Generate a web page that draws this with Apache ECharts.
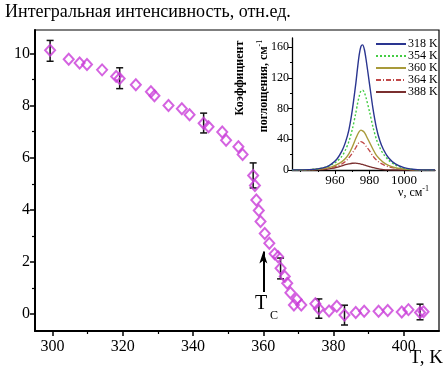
<!DOCTYPE html>
<html>
<head>
<meta charset="utf-8">
<script src="https://cdn.jsdelivr.net/npm/echarts@6/dist/echarts.min.js"></script>
<style>
  html, body { margin: 0; padding: 0; background: #fff; }
  #chart { width: 443px; height: 369px; }
</style>
</head>
<body>
<div id="chart"></div>
<script>
// Integrated intensity vs temperature (main plot)
const temperature = [299.3, 304.6, 307.7, 309.8, 314.1, 318.1, 319.1, 323.7, 328.0, 329.0,
  333.0, 336.8, 339.0, 343.0, 344.4, 348.3, 349.4, 352.9, 354.1, 357.1,
  357.6, 358.0, 358.7, 359.2, 360.4, 361.7, 363.2, 364.2, 364.9, 366.1,
  366.8, 367.7, 369.5, 368.7, 370.8, 374.8, 375.8, 378.7, 380.9, 383.1,
  386.3, 388.7, 392.8, 395.4, 399.4, 401.3, 404.6, 405.6];
const intensity = [10.12, 9.78, 9.63, 9.58, 9.37, 9.12, 9.04, 8.80, 8.53, 8.38,
  8.00, 7.88, 7.65, 7.32, 7.19, 6.99, 6.67, 6.42, 6.12, 5.32,
  4.93, 4.38, 3.97, 3.55, 3.09, 2.72, 2.31, 2.20, 1.76, 1.44,
  1.18, 0.82, 0.56, 0.35, 0.35, 0.40, 0.20, 0.12, 0.30, -0.04,
  0.06, 0.11, 0.11, 0.14, 0.08, 0.17, 0.06, 0.09];

// Error bars: temperature, central value, half-width
const errTemperature = [299.3, 319.1, 343.0, 357.1, 364.9, 375.8, 383.1, 404.6];
const errCenter = [10.10, 9.05, 7.33, 5.32, 1.75, 0.21, -0.04, 0.08];
const errHalf = [0.40, 0.40, 0.38, 0.48, 0.40, 0.37, 0.38, 0.30];

// Phase transition marker
const tcTemperature = 360;
const tcArrowFrom = 0.85;
const tcArrowTo = 2.4;

// Main axes ticks
const xMajorTicks = [300, 320, 340, 360, 380, 400];
const xMinorTicks = [310, 330, 350, 370, 390];
const yMajorTicks = [0, 2, 4, 6, 8, 10];
const yMinorTicks = [1, 3, 5, 7, 9];

// Absorption spectra (inset)
const wavenumber = [935, 945, 950, 955, 958, 961, 964, 966, 968, 970,
  972, 973, 974, 975, 976, 977, 978, 980, 982, 984,
  986, 988, 991, 995, 1000, 1005, 1010, 1018];
const abs318 = [0, 0.5, 1.5, 4, 8, 14, 25, 36, 52, 78,
  112, 132, 150, 161, 163, 157, 144, 112, 80, 55,
  38, 27, 16, 8, 3, 1, 0, 0];
const abs354 = [0, 0.5, 1.5, 4, 7, 11, 18, 26, 37, 53,
  74, 86, 96, 103, 104, 101, 94, 76, 56, 40,
  29, 21, 13, 6.5, 2.5, 0.8, 0, 0];
const abs360 = [0, 0.3, 1, 2.5, 4, 7, 11, 15, 21, 30,
  41, 46, 50, 52, 51, 49, 45, 36, 27, 19,
  14, 10, 6, 3, 1.2, 0.4, 0, 0];
const abs364 = [0, 0.3, 0.8, 2, 3, 5, 8, 11, 16, 22,
  29, 33, 36, 37, 36, 34, 31, 25, 18, 13,
  9.5, 7, 4.2, 2.2, 1, 0.3, 0, 0];
const abs388 = [0, 0, 0.3, 1, 2, 3.5, 5.5, 7, 8, 8.8,
  9, 8.5, 8.2, 7.8, 7.2, 6.5, 5.8, 4.5, 3.2, 2,
  1.2, 0.6, 0.2, 0, 0, 0, 0, 0];
const spectrumNames = ['318 K', '354 K', '360 K', '364 K', '388 K'];
const spectra = [abs318, abs354, abs360, abs364, abs388];

const insetXMajor = [960, 980, 1000];
const insetXMinor = [940, 950, 970, 990, 1010];
const insetYMajor = [0, 40, 80, 120, 160];
const insetYMinor = [20, 60, 100, 140];

// Styling
const FONT = 'Liberation Serif';
const markerColor = '#c93cd8';
const spectrumStyles = [
  { color: '#2a3590', type: 'solid', width: 1.4 },
  { color: '#44cc44', type: [2, 2], width: 1.4 },
  { color: '#a89a3a', type: 'solid', width: 1.4 },
  { color: '#c04848', type: [5, 2, 1, 2], width: 1.3 },
  { color: '#7a2f2f', type: 'solid', width: 1.3 }
];

const zip = (a, b) => a.map((v, i) => [v, b[i]]);
const plain = v => String(v);

const chart = echarts.init(document.getElementById('chart'), null, { renderer: 'canvas' });

const axisText = { fontFamily: FONT, fontSize: 16, color: '#000' };
const insetText = { fontFamily: FONT, fontSize: 12, color: '#000' };

const option = {
  animation: false,
  backgroundColor: '#fff',
  grid: [
    { left: 35, right: 4, top: 30, bottom: 38, show: true, borderColor: '#000', borderWidth: 1.2, backgroundColor: 'transparent' },
    { left: 292, top: 38, width: 143, height: 132, show: false }
  ],
  xAxis: [
    {
      gridIndex: 0, type: 'value', min: 295, max: 410,
      axisLine: { show: true, onZero: false, lineStyle: { color: '#000', width: 2 } },
      axisTick: { show: true, inside: false, length: 5, customValues: xMajorTicks, lineStyle: { color: '#000', width: 1.5 } },
      axisLabel: { show: true, margin: 8, customValues: xMajorTicks, formatter: plain, ...axisText },
      splitLine: { show: false }
    },
    {
      gridIndex: 0, type: 'value', min: 295, max: 410, position: 'bottom',
      axisLine: { show: false, onZero: false },
      axisTick: { show: true, inside: false, length: 3, customValues: xMinorTicks, lineStyle: { color: '#000', width: 1.2 } },
      axisLabel: { show: false },
      splitLine: { show: false }
    },
    {
      gridIndex: 1, type: 'value', min: 935, max: 1018,
      axisLine: { show: true, onZero: false, lineStyle: { color: '#000', width: 1.3 } },
      axisTick: { show: true, inside: false, length: 4, customValues: insetXMajor, lineStyle: { color: '#000', width: 1 } },
      axisLabel: { show: true, margin: 4, customValues: insetXMajor, formatter: plain, ...insetText, fontSize: 13 },
      splitLine: { show: false }
    },
    {
      gridIndex: 1, type: 'value', min: 935, max: 1018, position: 'bottom',
      axisLine: { show: false, onZero: false },
      axisTick: { show: true, inside: false, length: 2, customValues: insetXMinor, lineStyle: { color: '#000', width: 1 } },
      axisLabel: { show: false },
      splitLine: { show: false }
    }
  ],
  yAxis: [
    {
      gridIndex: 0, type: 'value', min: -0.65, max: 10.9,
      axisLine: { show: true, onZero: false, lineStyle: { color: '#000', width: 2 } },
      axisTick: { show: true, inside: false, length: 5, customValues: yMajorTicks, lineStyle: { color: '#000', width: 1.5 } },
      axisLabel: { show: true, margin: 5, customValues: yMajorTicks, formatter: plain, ...axisText },
      splitLine: { show: false }
    },
    {
      gridIndex: 0, type: 'value', min: -0.65, max: 10.9, position: 'left',
      axisLine: { show: false, onZero: false },
      axisTick: { show: true, inside: false, length: 3, customValues: yMinorTicks, lineStyle: { color: '#000', width: 1.2 } },
      axisLabel: { show: false },
      splitLine: { show: false }
    },
    {
      gridIndex: 1, type: 'value', min: 0, max: 172,
      axisLine: { show: true, onZero: false, lineStyle: { color: '#000', width: 1.3 } },
      axisTick: { show: true, inside: false, length: 4, customValues: insetYMajor, lineStyle: { color: '#000', width: 1 } },
      axisLabel: { show: true, margin: 3, customValues: insetYMajor, formatter: plain, ...insetText },
      splitLine: { show: false }
    },
    {
      gridIndex: 1, type: 'value', min: 0, max: 172, position: 'left',
      axisLine: { show: false, onZero: false },
      axisTick: { show: true, inside: false, length: 2, customValues: insetYMinor, lineStyle: { color: '#000', width: 1 } },
      axisLabel: { show: false },
      splitLine: { show: false }
    }
  ],
  legend: {
    data: spectrumNames,
    orient: 'vertical',
    left: 375, top: 38,
    itemWidth: 30, itemHeight: 14, itemGap: 0,
    padding: 0,
    selectedMode: false,
    itemStyle: { opacity: 0 },
    textStyle: { fontFamily: FONT, fontSize: 12, color: '#000', padding: [0, 0, 0, -3] }
  },
  series: [
    {
      type: 'custom',
      name: 'errors',
      xAxisIndex: 0, yAxisIndex: 0,
      silent: true,
      data: errTemperature.map((t, i) => [t, errCenter[i], errHalf[i]]),
      renderItem: function (params, api) {
        const t = api.value(0), c = api.value(1), e = api.value(2);
        const top = api.coord([t, c + e]);
        const bot = api.coord([t, c - e]);
        const w = 3.5;
        const st = { stroke: '#111', lineWidth: 1.5 };
        return {
          type: 'group',
          children: [
            { type: 'line', shape: { x1: top[0], y1: top[1], x2: bot[0], y2: bot[1] }, style: st },
            { type: 'line', shape: { x1: top[0] - w, y1: top[1], x2: top[0] + w, y2: top[1] }, style: st },
            { type: 'line', shape: { x1: bot[0] - w, y1: bot[1], x2: bot[0] + w, y2: bot[1] }, style: st }
          ]
        };
      },
      z: 2
    },
    {
      type: 'scatter',
      name: 'intensity',
      xAxisIndex: 0, yAxisIndex: 0,
      data: zip(temperature, intensity),
      symbol: 'diamond',
      symbolSize: [10, 11],
      itemStyle: { color: 'transparent', borderColor: markerColor, borderWidth: 2 },
      z: 3,
      markLine: {
        silent: true,
        symbol: ['none', 'arrow'],
        symbolSize: [6, 12],
        label: { show: false },
        lineStyle: { color: '#000', width: 2, type: 'solid' },
        data: [[{ coord: [tcTemperature, tcArrowFrom] }, { coord: [tcTemperature, tcArrowTo] }]]
      }
    },
    ...spectrumNames.map((name, i) => ({
      type: 'line',
      name: name,
      xAxisIndex: 2, yAxisIndex: 2,
      data: zip(wavenumber, spectra[i]),
      smooth: 0.3,
      showSymbol: false,
      symbol: 'none',
      lineStyle: spectrumStyles[i],
      itemStyle: { color: spectrumStyles[i].color },
      z: 5 - i
    }))
  ],
  graphic: [
    {
      type: 'text', left: 5, top: 3,
      style: { text: 'Интегральная интенсивность, отн.ед.', font: '18px "' + FONT + '"', fill: '#000' }
    },
    {
      type: 'text', right: 0, top: 349,
      style: { text: 'T, K', font: '19px "' + FONT + '"', fill: '#000' }
    },
    {
      type: 'text', left: 255, top: 294,
      style: { text: 'T', font: '20px "' + FONT + '"', fill: '#000' }
    },
    {
      type: 'text', left: 270, top: 310,
      style: { text: 'C', font: '12px "' + FONT + '"', fill: '#000' }
    },
    {
      type: 'text', x: 240, y: 78, rotation: Math.PI / 2,
      style: {
        text: 'Коэффициент',
        font: 'bold 12px "' + FONT + '"', fill: '#000', align: 'center', verticalAlign: 'middle'
      }
    },
    {
      type: 'text', x: 264, y: 86, rotation: Math.PI / 2,
      style: {
        text: '{a|поглощения, см}{s|-1}',
        align: 'center', verticalAlign: 'middle',
        rich: {
          a: { font: 'bold 12px "' + FONT + '"', fill: '#000' },
          s: { font: '8px "' + FONT + '"', fill: '#000', padding: [0, 0, 8, 0] }
        }
      }
    },
    {
      type: 'text', left: 398, top: 185,
      style: {
        text: '{a|ν, см}{s|-1}',
        rich: {
          a: { font: '12px "' + FONT + '"', fill: '#000' },
          s: { font: '8px "' + FONT + '"', fill: '#000', padding: [0, 0, 8, 0] }
        }
      }
    }
  ]
};

chart.setOption(option);
</script>
</body>
</html>
